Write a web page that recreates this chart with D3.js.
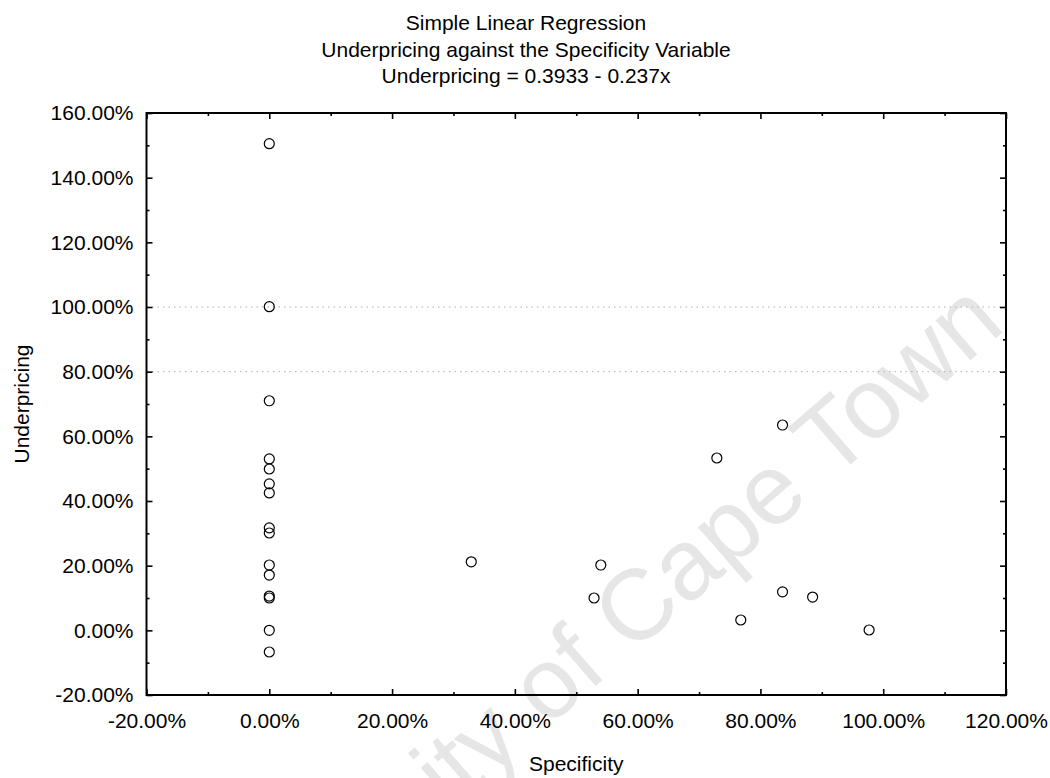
<!DOCTYPE html>
<html>
<head>
<meta charset="utf-8">
<script src="https://cdn.jsdelivr.net/npm/d3@7"></script>
<style>
  body { margin: 0; background: #fff; }
  svg { display: block; font-family: "Liberation Sans", Arial, sans-serif; }
</style>
</head>
<body>
<div id="chart"></div>
<script>
// values
var specificity = [0, 0, 0, 0, 0, 0, 0, 0, 0, 0, 0, 0, 0, 0, 0,
                   0.329, 0.540, 0.529, 0.729, 0.768, 0.836, 0.836, 0.885, 0.977];
var underpricing = [1.505, 1.001, 0.710, 0.530, 0.499, 0.453, 0.425, 0.317, 0.301, 0.202, 0.171, 0.106, 0.100, 0.000, -0.067,
                    0.212, 0.202, 0.100, 0.533, 0.032, 0.635, 0.119, 0.103, 0.001];
var xTicks = [-0.2, 0, 0.2, 0.4, 0.6, 0.8, 1.0, 1.2];
var yTicks = [-0.2, 0, 0.2, 0.4, 0.6, 0.8, 1.0, 1.2, 1.4, 1.6];
var gridY = [0.8, 1.0];
var titleLines = ["Simple Linear Regression",
                  "Underpricing against the Specificity Variable",
                  "Underpricing = 0.3933 - 0.237x"];

var W = 1050, H = 778;
var margin = {top: 113, right: 44, bottom: 83, left: 146.5},
    width = W - margin.left - margin.right,
    height = H - margin.top - margin.bottom;

// plain hyphen for negatives, like the original
var pct = function(d) { return d3.format(".2%")(d).replace("\u2212", "-"); };

var svg = d3.select("#chart").append("svg")
    .attr("width", W)
    .attr("height", H);

// watermark
svg.append("text")
    .attr("transform", "translate(578,655) rotate(-41)")
    .attr("text-anchor", "middle")
    .attr("dominant-baseline", "central")
    .style("font-size", "100px")
    .style("fill", "#e6e6e6")
    .text("University of Cape Town");

var x = d3.scaleLinear()
    .domain([-0.2, 1.2])
    .range([0, width]);

var y = d3.scaleLinear()
    .domain([-0.2, 1.6])
    .range([height, 0]);

var minorX = d3.range(-0.1, 1.2, 0.2);
var minorY = d3.range(-0.1, 1.6, 0.2);

var g = svg.append("g")
    .attr("transform", "translate(" + margin.left + "," + margin.top + ")");

// faint dotted grid remnants
g.selectAll(".grid")
    .data(gridY)
    .enter().append("line")
    .attr("class", "grid")
    .attr("x1", 0)
    .attr("x2", width)
    .attr("y1", function(d) { return y(d); })
    .attr("y2", function(d) { return y(d); })
    .style("stroke", "#b0b0b0")
    .style("stroke-width", 1)
    .style("stroke-dasharray", "1.5,4");

function styleAxis(sel) {
  sel.select(".domain").remove();
  sel.selectAll(".tick line").style("stroke", "#000").style("stroke-width", 1.6);
  sel.selectAll(".tick text")
      .style("font-size", "21px")
      .style("fill", "#000")
      .style("font-family", "'Liberation Sans', Arial, sans-serif");
}

// major ticks with labels
g.append("g")
    .attr("transform", "translate(0," + height + ")")
    .call(d3.axisBottom(x).tickValues(xTicks).tickFormat(pct).tickSize(-6).tickPadding(18))
    .call(styleAxis);

g.append("g")
    .call(d3.axisLeft(y).tickValues(yTicks).tickFormat(pct).tickSize(-6).tickPadding(13))
    .call(styleAxis);

g.append("g")
    .call(d3.axisTop(x).tickValues(xTicks).tickFormat("").tickSize(-6))
    .call(styleAxis);

g.append("g")
    .attr("transform", "translate(" + width + ",0)")
    .call(d3.axisRight(y).tickValues(yTicks).tickFormat("").tickSize(-6))
    .call(styleAxis);

// minor ticks
g.append("g")
    .attr("transform", "translate(0," + height + ")")
    .call(d3.axisBottom(x).tickValues(minorX).tickFormat("").tickSize(-3))
    .call(styleAxis);
g.append("g")
    .call(d3.axisTop(x).tickValues(minorX).tickFormat("").tickSize(-3))
    .call(styleAxis);
g.append("g")
    .call(d3.axisLeft(y).tickValues(minorY).tickFormat("").tickSize(-3))
    .call(styleAxis);
g.append("g")
    .attr("transform", "translate(" + width + ",0)")
    .call(d3.axisRight(y).tickValues(minorY).tickFormat("").tickSize(-3))
    .call(styleAxis);

// frame
g.append("rect")
    .attr("width", width)
    .attr("height", height)
    .style("fill", "none")
    .style("stroke", "#000")
    .style("stroke-width", 2);

// points
var data = specificity.map(function(d, i) {
  return {x: d, y: underpricing[i]};
});

g.selectAll(".dot")
    .data(data)
    .enter().append("circle")
    .attr("class", "dot")
    .attr("cx", function(d) { return x(d.x); })
    .attr("cy", function(d) { return y(d.y); })
    .attr("r", 5)
    .style("fill", "none")
    .style("stroke", "#000")
    .style("stroke-width", 1.2);

// titles
svg.selectAll(".title")
    .data(titleLines)
    .enter().append("text")
    .attr("class", "title")
    .attr("x", 526)
    .attr("y", function(d, i) { return 30 + i * 26.5; })
    .attr("text-anchor", "middle")
    .style("font-size", "21px")
    .text(function(d) { return d; });

svg.append("text")
    .attr("x", margin.left + width / 2)
    .attr("y", 771)
    .attr("text-anchor", "middle")
    .style("font-size", "21px")
    .text("Specificity");

svg.append("text")
    .attr("transform", "translate(29," + (margin.top + height / 2) + ") rotate(-90)")
    .attr("text-anchor", "middle")
    .style("font-size", "21px")
    .text("Underpricing");
</script>
</body>
</html>
